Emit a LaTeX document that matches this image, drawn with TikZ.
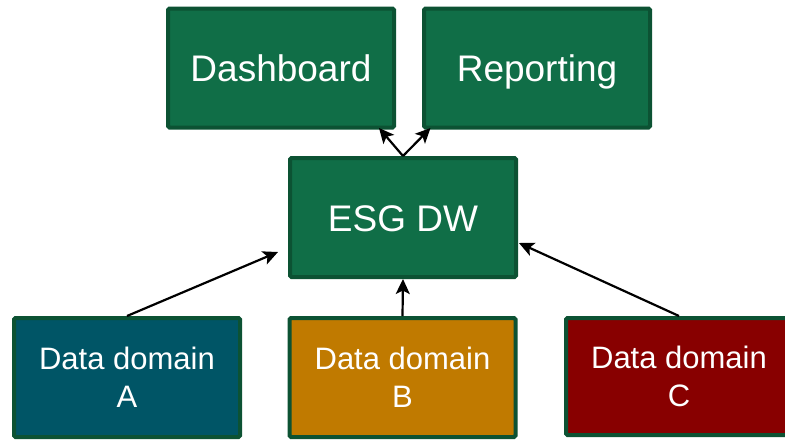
\documentclass[tikz,border=0pt]{standalone}
\usepackage{fontspec}
\setmainfont{Liberation Sans}
\usetikzlibrary{arrows.meta,calc}
\definecolor{boxgreen}{HTML}{106E47}
\definecolor{edgegreen}{HTML}{0C5233}
\definecolor{domA}{HTML}{005566}
\definecolor{domB}{HTML}{C07A00}
\definecolor{domC}{HTML}{880000}
\tikzset{
  block/.style={draw=edgegreen, line width=4pt, rounded corners=1.5pt,
    minimum width=226pt, minimum height=119pt, inner sep=0pt,
    text=white, align=center},
  bigtext/.style={font=\fontsize{37}{44}\selectfont, text height=27pt, text depth=0pt},
  smalltext/.style={font=\fontsize{31}{38}\selectfont},
  link/.style={line width=2.2pt, -{Stealth[length=15pt,width=14pt,inset=3.5pt]}}
}
\begin{document}
\begin{tikzpicture}[x=1pt,y=-1pt]
  \useasboundingbox (0,0) rectangle (785,440);
  \begin{scope}
    \clip (0,0) rectangle (785,440);
    % top row: consumers
    \node[block, bigtext, fill=boxgreen] (dash) at (281,68) {Dashboard};
    \node[block, bigtext, fill=boxgreen] (rep) at (537,68) {Reporting};
    % warehouse
    \node[block, bigtext, fill=boxgreen] (esg) at (403,217.5) {ESG DW};
    % sources
    \node[block, smalltext, fill=domA] (da) at (127,377.5) {Data domain\\A};
    \node[block, smalltext, fill=domB] (db) at (402.5,377.5) {Data domain\\B};
    \node[block, smalltext, fill=domC, minimum height=117pt] (dc) at (679,376.5) {Data domain\\C};
  \end{scope}
  % flows
  \draw[link] (esg.north) -- ($(dash.south east)+(-17,-1.5)$);
  \draw[link] (esg.north) -- ($(rep.south west)+(8.5,-1.5)$);
  \draw[link] (da.north) -- ($(esg.west)+(-10,34.5)$);
  \draw[link] (db.north) -- (esg.south);
  \draw[link] (dc.north) -- ($(esg.east)+(1,25.5)$);
\end{tikzpicture}
\end{document}
